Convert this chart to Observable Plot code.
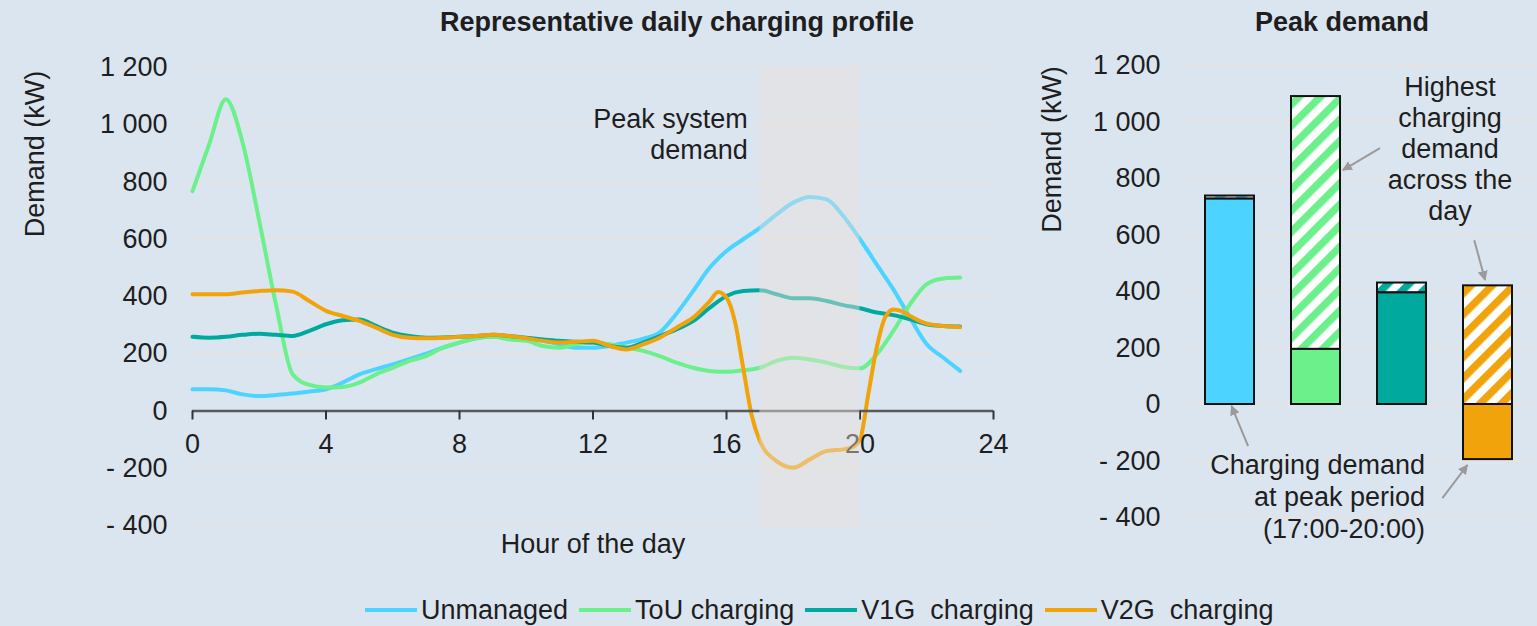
<!DOCTYPE html>
<html>
<head>
<meta charset="utf-8">
<script src="https://cdn.jsdelivr.net/npm/d3@7"></script>
<script src="https://cdn.jsdelivr.net/npm/@observablehq/plot@0.6"></script>
<style>
  html, body { margin: 0; padding: 0; background: #dbe5f0; }
  #root { position: relative; width: 1537px; height: 626px; overflow: hidden; background: #dbe5f0;
          font-family: "Liberation Sans", Arial, sans-serif; color: #1e1e1e; }
  .title { position: absolute; top: 7px; line-height: 30px; font-weight: bold; font-size: 27px;
           transform: translateX(-50%); white-space: nowrap; }
  #left { position: absolute; left: 0; top: 0; }
  #right { position: absolute; left: 1030px; top: 0; }
  #legend { position: absolute; left: 365px; top: 595px; display: flex; align-items: center;
            font-size: 27px; line-height: 30px; white-space: pre; }
  .item { display: flex; align-items: center; margin-right: 11px; }
  .sw { width: 52px; height: 4px; margin-right: 4px; }
</style>
</head>
<body>
<div id="root">
  <div class="title" style="left:677px">Representative daily charging profile</div>
  <div class="title" style="left:1342px">Peak demand</div>
  <div id="left"></div>
  <div id="right"></div>
  <div id="legend"></div>
</div>
<script>
// ---------- data ----------
const seriesNames = ["Unmanaged", "ToU charging", "V1G  charging", "V2G  charging"];
const seriesColors = ["#4cd3ff", "#6bf08b", "#00a99d", "#f0a30a"];

const hours = [0,0.5,1,1.5,2,2.5,3,3.5,4,4.5,5,5.5,6,6.5,7,7.5,8,8.5,9,9.5,10,10.5,11,11.5,
               12,12.5,13,13.5,14,14.5,15,15.5,16,16.5,17,17.5,18,18.5,19,19.5,20,20.5,21,21.5,22,22.5,23];
const unmanaged = [76,76,72,58,52,56,61,68, 76,99,128,146,163,181,200,221, 239,254,259,259,254,245,233,221,
                   221,227,239,252,275,340,419,501, 559,600,640,687,728,748,739,681, 600,512,425,326,233,186,140];
const touCharging = [768,932,1089,938,664,373,128,91, 82,84,99,128,151,175,192,221, 239,254,259,250,245,227,221,233,
                     239,233,221,210,192,169,151,140, 137,142,151,175,186,180,169,154, 149,198,280,373,443,463,466];
const v1gCharging = [259,256,259,266,270,266,262,280, 303,317,320,297,274,262,256,257, 259,262,266,262,256,250,245,242,
                     239,227,221,239,262,285,314,361, 402,419,422,408,394,394,384,370, 359,344,335,320,303,297,295];
const v2gHours = [0,0.5,1,1.5,2,2.5,3,3.5,4,4.5,5,5.5,6,6.5,7,7.5,8,8.5,9,9.5,10,10.5,11,11.5,
                  12,12.5,13,13.5,14,14.5,15,15.5,15.75,16,16.25,16.5,16.75,17,17.5,18,18.5,19,19.5,19.75,
                  20,20.25,20.5,20.75,21,21.25,21.5,22,22.5,23];
const v2gCharging = [408,408,408,414,419,422,417,384, 350,332,315,291,266,256,254,256, 259,262,266,262,254,245,239,242,
                     245,227,215,233,256,291,326,384, 416,396,314,151,-12,-105, -175,-198,-169,-140,-134,-128,-100,
                     60,221,326,355,349,332, 305,297,293];

const peakWindow = [17, 20];
const yTicks = [-400, -200, 0, 200, 400, 600, 800, 1000, 1200];
const xTicks = [0, 4, 8, 12, 16, 20, 24];

const barCategories = seriesNames;
const peakPeriodDemand = [727, 195, 395, -195];
const highestDemand = [738, 1090, 430, 420];

// annotation arrows: [category, offset in bandwidths from band centre, value]
const arrowNotes = [
  {from: ["V1G  charging", -0.44, 906], to: ["ToU charging", 0.56, 828]},
  {from: ["V2G  charging", -0.27, 580], to: ["V2G  charging", -0.05, 439]},
  {from: ["Unmanaged", 0.38, -149], to: ["Unmanaged", 0.04, -7]},
  {from: ["V2G  charging", -0.92, -333], to: ["V2G  charging", -0.41, -216]}
];

// ---------- helpers ----------
const fmtY = d => d < 0 ? "- " + fmtY(-d) : (d >= 1000 ? Math.floor(d / 1000) + " " + String(d % 1000).padStart(3, "0") : String(d));
const FONT = "'Liberation Sans', Arial, sans-serif";
const baseStyle = {fontFamily: FONT, fontSize: "27px", color: "#1e1e1e", background: "transparent", overflow: "visible"};
const gridColor = "#e9e3de";

const seriesData = [
  [hours, unmanaged], [hours, touCharging], [hours, v1gCharging], [v2gHours, v2gCharging]
];
const lineRows = seriesData.flatMap(([hs, vs], k) => hs.map((h, i) => ({series: seriesNames[k], hour: h, value: vs[i]})));

// ---------- left chart ----------
const left = Plot.plot({
  width: 1025, height: 580,
  marginLeft: 192, marginRight: 32, marginTop: 67, marginBottom: 55,
  style: baseStyle,
  x: {domain: [0, 24], axis: null},
  y: {domain: [-400, 1200]},
  color: {domain: seriesNames, range: seriesColors},
  marks: [
    Plot.gridY({ticks: yTicks, stroke: gridColor, strokeOpacity: 1, strokeWidth: 1.5}),
    Plot.axisY({ticks: yTicks, tickFormat: fmtY, tickSize: 0, tickPadding: 25, label: null}),
    Plot.line(lineRows, {x: "hour", y: "value", z: "series", stroke: "series", strokeWidth: 4, curve: "monotone-x"}),
    Plot.ruleY([0], {stroke: "#5a5a5a", strokeWidth: 2.5}),
    Plot.ruleX(xTicks, {x: d => d, y1: 0, y2: 0, insetBottom: -9, stroke: "#333", strokeWidth: 2}),
    Plot.text(xTicks, {x: d => d, y: () => 0, text: d => String(d), dy: 33}),
    Plot.text(["Hour of the day"], {frameAnchor: "bottom", dy: 27}),
    Plot.text(["Demand (kW)"], {frameAnchor: "left", y: () => 898, rotate: -90, dx: -157, textAnchor: "middle"}),
    Plot.text(["Peak system\ndemand"], {x: () => peakWindow[0], y: () => 970, textAnchor: "end", dx: -12, lineHeight: 1.15}),
    Plot.rect([peakWindow], {x1: d => d[0], x2: d => d[1], fill: "#e8e0dc", fillOpacity: 0.45})
  ]
});
document.getElementById("left").appendChild(left);

// ---------- right chart ----------
const hatchIds = ["hatch-un", "hatch-tou", "hatch-v1g", "hatch-v2g"];
const barRows = barCategories.map((c, i) => ({
  cat: c, peak: peakPeriodDemand[i], high: highestDemand[i], base: Math.max(0, peakPeriodDemand[i]),
  solid: seriesColors[i], hatch: `url(#${hatchIds[i]})`
}));

const right = Plot.plot({
  width: 507, height: 560,
  marginLeft: 155, marginRight: 5, marginTop: 65, marginBottom: 43,
  style: baseStyle,
  x: {domain: barCategories, paddingInner: 0.43, paddingOuter: 0.21, axis: null},
  y: {domain: [-400, 1200]},
  color: {type: "identity"},
  marks: [
    Plot.gridY({ticks: yTicks, stroke: gridColor, strokeOpacity: 1, strokeWidth: 1.5}),
    Plot.axisY({ticks: yTicks, tickFormat: fmtY, tickSize: 0, tickPadding: 25, label: null}),
    Plot.barY(barRows, {x: "cat", y1: "base", y2: "high", fill: "hatch", stroke: "#111", strokeWidth: 2}),
    Plot.barY(barRows, {x: "cat", y1: 0, y2: "peak", fill: "solid", stroke: "#111", strokeWidth: 2}),
    Plot.text(["Demand (kW)"], {frameAnchor: "left", y: () => 903, rotate: -90, dx: -133, textAnchor: "middle"}),
    Plot.text(["Highest\ncharging\ndemand\nacross the\nday"], {x: () => barCategories[2], y: () => 908, dx: 48, lineHeight: 1.15}),
    Plot.text(["Charging demand\nat peak period\n(17:00-20:00)"], {x: () => barCategories[2], y: () => -324, dx: 23, textAnchor: "end", lineHeight: 1.18})
  ]
});
document.getElementById("right").appendChild(right);

// hatch patterns and arrow marker
const svgR = d3.select(right);
const defs = svgR.insert("defs", ":first-child");
hatchIds.forEach((id, i) => {
  const p = defs.append("pattern").attr("id", id).attr("patternUnits", "userSpaceOnUse")
    .attr("width", 15).attr("height", 15).attr("patternTransform", "rotate(45)");
  p.append("rect").attr("width", 15).attr("height", 15).attr("fill", "#fff");
  p.append("rect").attr("width", 7.5).attr("height", 15).attr("fill", seriesColors[i]);
});
defs.append("marker").attr("id", "arrowhead").attr("viewBox", "0 0 10 10").attr("refX", 9).attr("refY", 5)
  .attr("markerWidth", 5).attr("markerHeight", 5).attr("markerUnits", "strokeWidth").attr("orient", "auto")
  .append("path").attr("d", "M0,0L10,5L0,10z").attr("fill", "#9a9a9a");

const sx = right.scale("x"), sy = right.scale("y");
const bw = sx.bandwidth;
const px = ([cat, off]) => sx.apply(cat) + bw / 2 + off * bw;
const py = ([, , v]) => sy.apply(v);
svgR.append("g").selectAll("line").data(arrowNotes).join("line")
  .attr("x1", d => px(d.from)).attr("y1", d => py(d.from))
  .attr("x2", d => px(d.to)).attr("y2", d => py(d.to))
  .attr("stroke", "#9a9a9a").attr("stroke-width", 2).attr("marker-end", "url(#arrowhead)");

// ---------- legend ----------
const legend = d3.select("#legend");
seriesNames.forEach((n, i) => {
  const it = legend.append("div").attr("class", "item");
  it.append("div").attr("class", "sw").style("background", seriesColors[i]);
  it.append("span").text(n);
});
</script>
</body>
</html>
